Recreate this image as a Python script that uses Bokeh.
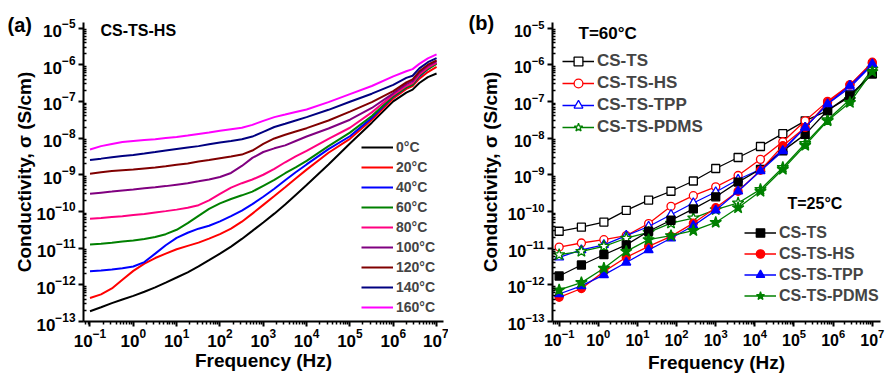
from bokeh.plotting import figure
from bokeh.models import Range1d, FixedTicker, LogTickFormatter, Legend, LegendItem, Label, Title
from bokeh.layouts import row
from bokeh.embed import file_html
from bokeh.resources import INLINE

FONT = "Liberation Sans"

# ---------------- Panel (a): CS-TS-HS at different temperatures ----------------
freq_a = [0.1, 0.18, 0.32, 0.56, 1, 1.8, 3.2, 5.6, 10, 18, 32, 56, 100, 180, 320, 560,
          1000, 1800, 3200, 5600, 1e4, 3.2e4, 1e5, 3.2e5, 1e6, 2e6, 2.8e6, 4e6, 6.3e6, 1e7]

temps_a = ["0°C", "20°C", "40°C", "60°C", "80°C", "100°C", "120°C", "140°C", "160°C"]
colors_a = ["#000000", "#FF0000", "#0000FF", "#008000", "#FF0080",
            "#800080", "#800000", "#000080", "#FF00FF"]

sigma_0C = [1.91e-13, 2.45e-13, 3.16e-13, 3.98e-13, 5.01e-13, 6.46e-13, 8.51e-13, 1.15e-12,
            1.58e-12, 2.19e-12, 3.16e-12, 4.68e-12, 7.08e-12, 1.10e-11, 1.78e-11, 2.95e-11,
            5.01e-11, 8.71e-11, 1.55e-10, 2.82e-10, 5.25e-10, 1.91e-9, 7.08e-9, 2.63e-8,
            1.0e-7, 1.74e-7, 2.09e-7, 3.16e-7, 4.57e-7, 5.75e-7]
sigma_20C = [4.37e-13, 5.50e-13, 7.94e-13, 1.38e-12, 2.40e-12, 3.80e-12, 5.37e-12, 7.08e-12,
             9.33e-12, 1.15e-11, 1.41e-11, 1.82e-11, 2.40e-11, 3.39e-11, 5.25e-11, 8.71e-11,
             1.51e-10, 2.63e-10, 4.57e-10, 7.94e-10, 1.38e-9, 3.98e-9, 9.55e-9, 3.16e-8,
             1.20e-7, 2.19e-7, 2.63e-7, 4.17e-7, 6.31e-7, 8.71e-7]
sigma_40C = [2.34e-12, 2.45e-12, 2.63e-12, 2.82e-12, 3.16e-12, 4.17e-12, 7.08e-12, 1.20e-11,
             1.91e-11, 2.63e-11, 3.39e-11, 4.07e-11, 5.37e-11, 7.41e-11, 1.05e-10, 1.58e-10,
             2.51e-10, 4.17e-10, 7.08e-10, 1.17e-9, 1.91e-9, 5.01e-9, 1.12e-8, 3.55e-8,
             1.35e-7, 2.40e-7, 2.88e-7, 4.79e-7, 7.59e-7, 1.12e-6]
sigma_60C = [1.26e-11, 1.32e-11, 1.41e-11, 1.51e-11, 1.62e-11, 1.78e-11, 2.0e-11, 2.40e-11,
             3.16e-11, 4.79e-11, 7.59e-11, 1.17e-10, 1.66e-10, 2.19e-10, 2.75e-10, 3.47e-10,
             5.01e-10, 7.24e-10, 1.10e-9, 1.58e-9, 2.40e-9, 6.03e-9, 1.41e-8, 3.98e-8,
             1.38e-7, 2.40e-7, 2.88e-7, 5.01e-7, 7.59e-7, 1.05e-6]
sigma_80C = [6.31e-11, 6.61e-11, 7.08e-11, 7.41e-11, 7.94e-11, 8.51e-11, 9.33e-11, 1.02e-10,
             1.12e-10, 1.26e-10, 1.48e-10, 2.0e-10, 3.02e-10, 4.47e-10, 5.89e-10, 7.41e-10,
             1.0e-9, 1.45e-9, 2.19e-9, 3.16e-9, 4.47e-9, 9.55e-9, 1.91e-8, 5.01e-8,
             1.51e-7, 2.63e-7, 3.16e-7, 5.37e-7, 8.32e-7, 1.12e-6]
sigma_100C = [3.02e-10, 3.24e-10, 3.47e-10, 3.72e-10, 3.98e-10, 4.27e-10, 4.57e-10, 4.90e-10,
              5.37e-10, 5.89e-10, 6.61e-10, 7.41e-10, 8.71e-10, 1.12e-9, 1.74e-9, 2.88e-9,
              4.17e-9, 5.25e-9, 6.31e-9, 8.32e-9, 1.10e-8, 1.82e-8, 3.16e-8, 6.61e-8,
              1.66e-7, 2.95e-7, 3.55e-7, 6.03e-7, 9.33e-7, 1.26e-6]
sigma_120C = [1.07e-9, 1.17e-9, 1.26e-9, 1.32e-9, 1.38e-9, 1.48e-9, 1.58e-9, 1.70e-9,
              1.86e-9, 2.04e-9, 2.29e-9, 2.51e-9, 2.82e-9, 3.16e-9, 3.55e-9, 4.57e-9,
              6.92e-9, 9.77e-9, 1.23e-8, 1.51e-8, 1.86e-8, 3.02e-8, 5.25e-8, 9.55e-8,
              1.91e-7, 3.31e-7, 3.98e-7, 6.61e-7, 1.0e-6, 1.32e-6]
sigma_140C = [2.51e-9, 2.75e-9, 3.02e-9, 3.24e-9, 3.47e-9, 3.80e-9, 4.17e-9, 4.57e-9,
              5.01e-9, 5.50e-9, 6.03e-9, 6.76e-9, 7.59e-9, 8.32e-9, 9.33e-9, 1.10e-8,
              1.48e-8, 2.0e-8, 2.45e-8, 3.02e-8, 3.72e-8, 5.89e-8, 9.77e-8, 1.62e-7,
              2.82e-7, 4.37e-7, 5.01e-7, 7.94e-7, 1.17e-6, 1.51e-6]
sigma_160C = [4.90e-9, 6.03e-9, 6.92e-9, 7.76e-9, 8.32e-9, 8.91e-9, 9.33e-9, 1.0e-8,
              1.07e-8, 1.17e-8, 1.29e-8, 1.41e-8, 1.58e-8, 1.74e-8, 1.91e-8, 2.29e-8,
              2.95e-8, 3.72e-8, 4.37e-8, 5.13e-8, 6.03e-8, 9.55e-8, 1.58e-7, 2.63e-7,
              4.79e-7, 6.61e-7, 7.59e-7, 1.05e-6, 1.48e-6, 1.91e-6]

series_a = [sigma_0C, sigma_20C, sigma_40C, sigma_60C, sigma_80C,
            sigma_100C, sigma_120C, sigma_140C, sigma_160C]

# ---------------- Panel (b): four samples at 60 °C (open) and 25 °C (filled) ----------------
freq_b = [0.1, 0.37, 1.39, 5.18, 19.3, 72, 268, 1000, 3730, 13900, 51800,
          193000, 720000, 2680000, 1e7]
samples_b = ["CS-TS", "CS-TS-HS", "CS-TS-TPP", "CS-TS-PDMS"]
colors_b = ["#000000", "#FF0000", "#0000FF", "#008000"]
markers_b = ["square", "circle", "triangle", "star"]
msize_b = [8, 8, 9, 12]

s60_TS = [2.88e-11, 3.72e-11, 5.13e-11, 1.07e-10, 2.04e-10, 3.55e-10, 6.76e-10, 1.48e-9,
          2.95e-9, 5.89e-9, 1.32e-8, 2.95e-8, 5.62e-8, 1.35e-7, 5.62e-7]
s60_HS = [1.07e-11, 1.38e-11, 1.70e-11, 2.19e-11, 4.68e-11, 1.38e-10, 2.69e-10, 4.68e-10,
          9.55e-10, 2.63e-9, 7.94e-9, 2.95e-8, 1.0e-7, 2.82e-7, 1.10e-6]
s60_TPP = [5.62e-12, 8.91e-12, 1.23e-11, 2.19e-11, 3.89e-11, 8.13e-11, 1.70e-10, 3.39e-10,
           7.41e-10, 1.41e-9, 4.90e-9, 1.95e-8, 8.51e-8, 2.40e-7, 1.0e-6]
s60_PDMS = [6.61e-12, 8.13e-12, 1.12e-11, 1.86e-11, 2.69e-11, 4.79e-11, 6.61e-11, 1.12e-10,
            1.70e-10, 3.98e-10, 1.58e-9, 7.08e-9, 3.16e-8, 1.12e-7, 7.59e-7]

s25_TS = [1.74e-12, 3.47e-12, 6.61e-12, 1.23e-11, 2.88e-11, 5.75e-11, 1.17e-10, 2.51e-10,
          6.31e-10, 1.41e-9, 4.47e-9, 1.26e-8, 5.62e-8, 1.48e-7, 5.62e-7]
s25_HS = [4.57e-13, 7.94e-13, 2.29e-12, 5.62e-12, 1.12e-11, 2.09e-11, 4.79e-11, 1.26e-10,
          3.55e-10, 1.32e-9, 6.17e-9, 1.95e-8, 9.33e-8, 2.82e-7, 1.17e-6]
s25_TPP = [5.62e-13, 9.33e-13, 1.86e-12, 4.07e-12, 8.91e-12, 1.86e-11, 4.07e-11, 1.07e-10,
           3.55e-10, 1.26e-9, 4.47e-9, 1.95e-8, 8.51e-8, 2.69e-7, 1.05e-6]
s25_PDMS = [7.24e-13, 1.15e-12, 2.82e-12, 8.13e-12, 1.70e-11, 2.19e-11, 3.02e-11, 5.01e-11,
            1.26e-10, 3.55e-10, 1.41e-9, 6.31e-9, 2.95e-8, 9.33e-8, 6.46e-7]

open_b = [s60_TS, s60_HS, s60_TPP, s60_PDMS]
filled_b = [s25_TS, s25_HS, s25_TPP, s25_PDMS]

x_major = [10.0 ** e for e in range(-1, 8)]
x_minor = [m * 10.0 ** e for e in range(-2, 8) for m in range(2, 10)]
y_major = [10.0 ** e for e in range(-13, -4)]
y_minor = [m * 10.0 ** e for e in range(-14, -5) for m in range(2, 10)]


def style_axes(p, tick_px, xlab_standoff, ylab_standoff):
    p.xaxis.ticker = FixedTicker(ticks=x_major, minor_ticks=x_minor)
    p.yaxis.ticker = FixedTicker(ticks=y_major, minor_ticks=y_minor)
    p.xaxis.formatter = LogTickFormatter()
    p.yaxis.formatter = LogTickFormatter()
    for ax in (p.xaxis[0], p.yaxis[0]):
        ax.axis_line_width = 2
        ax.axis_line_color = "black"
        ax.major_tick_line_width = 2
        ax.minor_tick_line_width = 1.5
        ax.major_tick_line_color = "black"
        ax.minor_tick_line_color = "black"
        ax.major_label_text_font = FONT
        ax.major_label_text_font_style = "bold"
        ax.major_label_text_font_size = tick_px
        ax.major_label_text_color = "black"
        ax.axis_label_text_font = FONT
        ax.axis_label_text_font_style = "bold"
        ax.axis_label_text_font_size = "19px"
        ax.axis_label_text_color = "black"
    xa, ya = p.xaxis[0], p.yaxis[0]
    xa.major_tick_in, xa.major_tick_out = 0, 5
    xa.minor_tick_in, xa.minor_tick_out = 0, 3
    ya.major_tick_in, ya.major_tick_out = 0, 5
    ya.minor_tick_in, ya.minor_tick_out = 3, 0
    xa.major_label_standoff = 2
    ya.major_label_standoff = 3
    xa.axis_label_standoff = xlab_standoff
    ya.axis_label_standoff = ylab_standoff
    xa.axis_label = "Frequency (Hz)"
    ya.axis_label = "Conductivity, σ (S/cm)"
    p.xgrid.visible = False
    p.ygrid.visible = False
    p.outline_line_color = None


def add_text(p, text, x, y, size, baseline="middle"):
    p.add_layout(Label(x=x, y=y, x_units="screen", y_units="screen", text=text,
                       text_font=FONT, text_font_style="bold", text_font_size=size,
                       text_baseline=baseline, text_align="left", text_color="black"))


def add_tag(p, text, offset, standoff):
    p.add_layout(Title(text=text, align="left", offset=offset, standoff=standoff,
                       text_font=FONT, text_font_style="bold", text_font_size="20px",
                       text_color="black"), "above")


# ---------------- figure (a) ----------------
pa = figure(width=448, height=378, x_axis_type="log", y_axis_type="log",
            x_range=Range1d(10 ** -1.15, 10 ** 7.16), y_range=Range1d(1e-13, 10 ** -4.85),
            output_backend="svg", toolbar_location=None,
            min_border_left=83, min_border_right=5, min_border_top=22, min_border_bottom=57)
style_axes(pa, "17px", 0, -2)

items_a = []
for lab, col, ys in zip(temps_a, colors_a, series_a):
    r = pa.line(freq_a, ys, line_color=col, line_width=2)
    items_a.append(LegendItem(label=lab, renderers=[r]))

leg_a = Legend(items=items_a, location=(278, 4), padding=0, spacing=0, margin=0,
               label_height=20, glyph_height=20, glyph_width=32, label_standoff=3,
               label_text_font=FONT, label_text_font_style="bold", label_text_font_size="14px",
               border_line_color=None, background_fill_alpha=0)
pa.add_layout(leg_a)
add_tag(pa, "(a)", -76, -27)
add_text(pa, "CS-TS-HS", 17, 291, "16px")

# ---------------- figure (b) ----------------
pb = figure(width=438, height=378, x_axis_type="log", y_axis_type="log",
            x_range=Range1d(10 ** -1.17, 10 ** 7.21), y_range=Range1d(1e-13, 10 ** -4.85),
            output_backend="svg", toolbar_location=None,
            min_border_left=104, min_border_right=6, min_border_top=22, min_border_bottom=57)
style_axes(pb, "16px", 3, 4)

items_open, items_filled = [], []
for name, col, mk, ms, yo in zip(samples_b, colors_b, markers_b, msize_b, open_b):
    lo = pb.line(freq_b, yo, line_color=col, line_width=1.3)
    so = pb.scatter(freq_b, yo, marker=mk, size=ms, line_color=col, fill_color="white",
                    line_width=1.3)
    items_open.append(LegendItem(label=name, renderers=[lo, so]))
for name, col, mk, ms, yf in zip(samples_b, colors_b, markers_b, msize_b, filled_b):
    lf = pb.line(freq_b, yf, line_color=col, line_width=1.3)
    sf = pb.scatter(freq_b, yf, marker=mk, size=ms, line_color=col, fill_color=col,
                    line_width=1.3)
    items_filled.append(LegendItem(label=name, renderers=[lf, sf]))

legend_kw = dict(padding=0, spacing=0, margin=0, glyph_width=32, label_standoff=3,
                 label_text_font=FONT, label_text_font_style="bold",
                 border_line_color=None, background_fill_alpha=0)
pb.add_layout(Legend(items=items_open, location=(10, 183), label_height=22, glyph_height=22,
                     label_text_font_size="17px", **legend_kw))
pb.add_layout(Legend(items=items_filled, location=(192, 15), label_height=21, glyph_height=21,
                     label_text_font_size="16px", **legend_kw))

add_tag(pb, "(b)", -84, -23)
add_text(pb, "T=60°C", 26, 288, "17px")
add_text(pb, "T=25°C", 235, 118, "16px")

layout = row(pa, pb)
open("out.html", "w").write(file_html(layout, INLINE))
